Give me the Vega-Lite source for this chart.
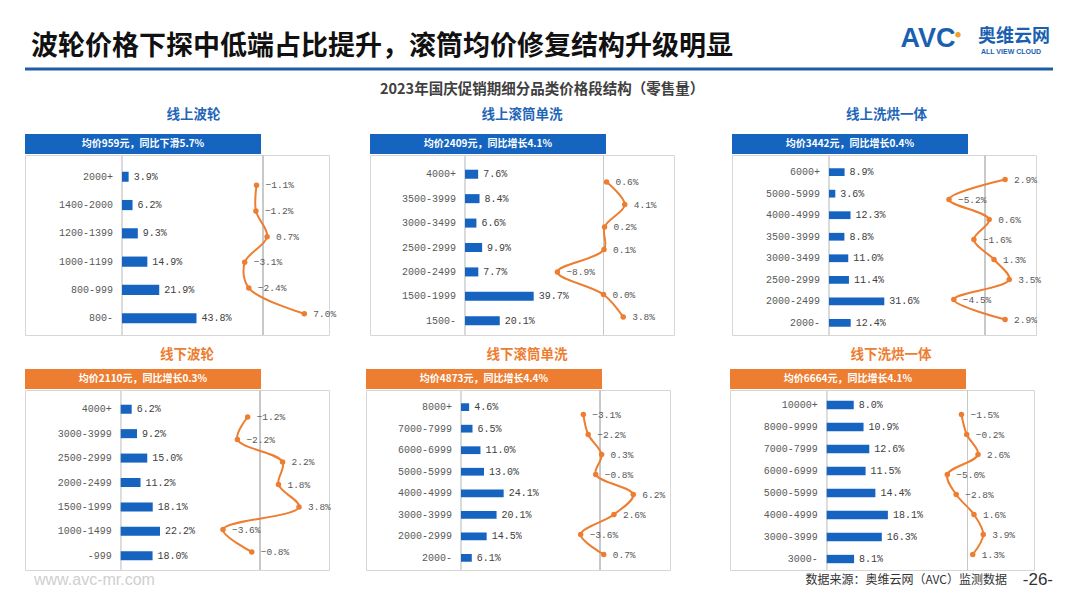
{
"$schema": "https://vega.github.io/schema/vega-lite/v6.json",
"background": "white",
"padding": {"left": 23, "top": 25, "right": 0, "bottom": 0},
"config": {"view": {"stroke": "#d6d6d6"}, "axis": {"disable": true}, "font": "Noto Sans CJK SC"},
"datasets": {"d": [
{"p":1,"seg":"2000+","share":0.039,"yoy":-0.011},
{"p":1,"seg":"1400-2000","share":0.062,"yoy":-0.012},
{"p":1,"seg":"1200-1399","share":0.093,"yoy":0.007},
{"p":1,"seg":"1000-1199","share":0.149,"yoy":-0.031},
{"p":1,"seg":"800-999","share":0.219,"yoy":-0.024},
{"p":1,"seg":"800-","share":0.438,"yoy":0.070},
{"p":2,"seg":"4000+","share":0.076,"yoy":0.006},
{"p":2,"seg":"3500-3999","share":0.084,"yoy":0.041},
{"p":2,"seg":"3000-3499","share":0.066,"yoy":0.002},
{"p":2,"seg":"2500-2999","share":0.099,"yoy":0.001},
{"p":2,"seg":"2000-2499","share":0.077,"yoy":-0.089},
{"p":2,"seg":"1500-1999","share":0.397,"yoy":0.0},
{"p":2,"seg":"1500-","share":0.201,"yoy":0.038},
{"p":3,"seg":"6000+","share":0.089,"yoy":0.029},
{"p":3,"seg":"5000-5999","share":0.036,"yoy":-0.052},
{"p":3,"seg":"4000-4999","share":0.123,"yoy":0.006},
{"p":3,"seg":"3500-3999","share":0.088,"yoy":-0.016},
{"p":3,"seg":"3000-3499","share":0.110,"yoy":0.013},
{"p":3,"seg":"2500-2999","share":0.114,"yoy":0.035},
{"p":3,"seg":"2000-2499","share":0.316,"yoy":-0.045},
{"p":3,"seg":"2000-","share":0.124,"yoy":0.029},
{"p":4,"seg":"4000+","share":0.062,"yoy":-0.012},
{"p":4,"seg":"3000-3999","share":0.092,"yoy":-0.022},
{"p":4,"seg":"2500-2999","share":0.150,"yoy":0.022},
{"p":4,"seg":"2000-2499","share":0.112,"yoy":0.018},
{"p":4,"seg":"1500-1999","share":0.181,"yoy":0.038},
{"p":4,"seg":"1000-1499","share":0.222,"yoy":-0.036},
{"p":4,"seg":"-999","share":0.180,"yoy":-0.008},
{"p":5,"seg":"8000+","share":0.046,"yoy":-0.031},
{"p":5,"seg":"7000-7999","share":0.065,"yoy":-0.022},
{"p":5,"seg":"6000-6999","share":0.110,"yoy":0.003},
{"p":5,"seg":"5000-5999","share":0.130,"yoy":-0.008},
{"p":5,"seg":"4000-4999","share":0.241,"yoy":0.062},
{"p":5,"seg":"3000-3999","share":0.201,"yoy":0.026},
{"p":5,"seg":"2000-2999","share":0.145,"yoy":-0.036},
{"p":5,"seg":"2000-","share":0.061,"yoy":0.007},
{"p":6,"seg":"10000+","share":0.080,"yoy":-0.015},
{"p":6,"seg":"8000-9999","share":0.109,"yoy":-0.002},
{"p":6,"seg":"7000-7999","share":0.126,"yoy":0.026},
{"p":6,"seg":"6000-6999","share":0.115,"yoy":-0.050},
{"p":6,"seg":"5000-5999","share":0.144,"yoy":-0.028},
{"p":6,"seg":"4000-4999","share":0.181,"yoy":0.016},
{"p":6,"seg":"3000-3999","share":0.163,"yoy":0.039},
{"p":6,"seg":"3000-","share":0.081,"yoy":0.013}
]},
"spacing": 11,
"vconcat": [
{
 "width": 1028, "height": 40, "view": {"stroke": null},
 "data": {"values": [{}]},
 "layer": [
  {"mark": {"type": "rule", "color": "#1f5ca8", "strokeWidth": 3}, "encoding": {"y": {"datum": 0, "type": "quantitative", "scale": {"domain": [0, 1], "nice": false}}}},
  {"mark": {"type": "text", "text": "波轮价格下探中低端占比提升，滚筒均价修复结构升级明显", "align": "left", "dx": 6, "fontSize": 27, "fontWeight": "bold", "color": "#111111"}, "encoding": {"x": {"datum": 0, "type": "quantitative", "scale": {"domain": [0, 1], "nice": false}}, "y": {"datum": 0.55, "type": "quantitative"}}},
  {"mark": {"type": "text", "text": "AVC", "align": "center", "dx": -125, "fontSize": 27, "fontWeight": "bold", "font": "Liberation Sans", "color": "#1b5fb0"}, "encoding": {"x": {"datum": 1, "type": "quantitative"}, "y": {"datum": 0.74, "type": "quantitative"}}},
  {"mark": {"type": "text", "text": "●", "align": "center", "dx": -95, "fontSize": 6, "color": "#f0a030"}, "encoding": {"x": {"datum": 1, "type": "quantitative"}, "y": {"datum": 0.86, "type": "quantitative"}}},
  {"mark": {"type": "text", "text": "奥维云网", "align": "right", "dx": -3, "fontSize": 18, "fontWeight": "bold", "color": "#1b5fb0"}, "encoding": {"x": {"datum": 1, "type": "quantitative"}, "y": {"datum": 0.8, "type": "quantitative"}}},
  {"mark": {"type": "text", "text": "ALL VIEW CLOUD", "align": "center", "dx": -42, "fontSize": 7, "fontWeight": "bold", "font": "Liberation Sans", "color": "#1b5fb0"}, "encoding": {"x": {"datum": 1, "type": "quantitative"}, "y": {"datum": 0.42, "type": "quantitative"}}}
 ]
},
{
 "title": {"text": "2023年国庆促销期细分品类价格段结构（零售量）", "fontSize": 14.5, "fontWeight": "bold", "color": "#404040", "anchor": "middle", "offset": 10, "dx": 9},
 "spacing": 56,
 "hconcat": [
  {"spacing": 32, "hconcat": [
   {
    "title": {"text": "线上波轮", "color": "#1f66b8", "fontSize": 13.5, "fontWeight": "bold", "anchor": "middle", "offset": 13, "dx": 13},
    "spacing": 0,
    "vconcat": [
     {"width": 236, "height": 20, "view": {"fill": "#1565c0", "stroke": null}, "data": {"values": [{}]}, "mark": {"type": "text", "text": "均价959元，同比下滑5.7%", "color": "white", "fontSize": 10, "fontWeight": "bold"}, "encoding": {}},
     {"width": 304, "height": 180, "data": {"name": "d"}, "transform": [{"filter": "datum.p == 1"}],
      "resolve": {"scale": {"x": "independent", "y": "independent"}},
      "layer": [
       {"layer": [
        {"mark": {"type": "rule", "color": "#dadada"}, "encoding": {"x": {"datum": 0, "type": "quantitative"}}},
        {"mark": {"type": "bar", "color": "#1663c0", "yOffset": 2.5}, "encoding": {"y": {"field": "seg", "type": "nominal", "sort": null, "scale": {"paddingInner": 0.64, "paddingOuter": 0.5}}, "x": {"field": "share", "type": "quantitative", "scale": {"domain": [-0.5706, 1.2176], "nice": false}}}},
        {"mark": {"type": "text", "align": "left", "dx": 5, "yOffset": 2.5, "font": "Liberation Mono", "fontSize": 10, "color": "#404040"}, "encoding": {"y": {"field": "seg", "type": "nominal", "sort": null}, "x": {"field": "share", "type": "quantitative"}, "text": {"field": "share", "type": "quantitative", "format": ".1%"}}},
        {"mark": {"type": "text", "align": "right", "dx": -9, "yOffset": 2.5, "font": "Liberation Mono", "fontSize": 10, "color": "#595959"}, "encoding": {"y": {"field": "seg", "type": "nominal", "sort": null}, "x": {"datum": 0, "type": "quantitative"}, "text": {"field": "seg", "type": "nominal"}}}
       ]},
       {"layer": [
        {"mark": {"type": "rule", "color": "#c8c8c8"}, "encoding": {"x": {"datum": 0, "type": "quantitative"}}},
        {"mark": {"type": "line", "color": "#ed7d31", "interpolate": "catmull-rom", "strokeWidth": 2, "yOffset": 4.5}, "encoding": {"y": {"field": "seg", "type": "nominal", "sort": null, "scale": {"type": "point", "padding": 1}}, "x": {"field": "yoy", "type": "quantitative", "scale": {"domain": [-0.4034, 0.1119], "nice": false}}, "order": {"value": null}}},
        {"mark": {"type": "point", "filled": true, "opacity": 1, "size": 30, "color": "#ed7d31", "yOffset": 4.5}, "encoding": {"y": {"field": "seg", "type": "nominal", "sort": null}, "x": {"field": "yoy", "type": "quantitative"}}},
        {"mark": {"type": "text", "align": "left", "dx": 9, "yOffset": 4.5, "font": "Liberation Mono", "fontSize": 9.5, "color": "#595959"}, "encoding": {"y": {"field": "seg", "type": "nominal", "sort": null}, "x": {"field": "yoy", "type": "quantitative"}, "text": {"field": "yoy", "type": "quantitative", "format": ".1%"}}}
       ]}
      ]
     }
    ]
   },
   {
    "title": {"text": "线上滚筒单洗", "color": "#1f66b8", "fontSize": 13.5, "fontWeight": "bold", "anchor": "middle", "offset": 13, "dx": 0},
    "spacing": 0,
    "vconcat": [
     {"width": 236, "height": 20, "view": {"fill": "#1565c0", "stroke": null}, "data": {"values": [{}]}, "mark": {"type": "text", "text": "均价2409元，同比增长4.1%", "color": "white", "fontSize": 10, "fontWeight": "bold"}, "encoding": {}},
     {"width": 304, "height": 180, "data": {"name": "d"}, "transform": [{"filter": "datum.p == 2"}],
      "resolve": {"scale": {"x": "independent", "y": "independent"}},
      "layer": [
       {"layer": [
        {"mark": {"type": "rule", "color": "#dadada"}, "encoding": {"x": {"datum": 0, "type": "quantitative"}}},
        {"mark": {"type": "bar", "color": "#1663c0", "yOffset": 2.5}, "encoding": {"y": {"field": "seg", "type": "nominal", "sort": null, "scale": {"paddingInner": 0.63, "paddingOuter": 0.5}}, "x": {"field": "share", "type": "quantitative", "scale": {"domain": [-0.549, 1.208], "nice": false}}}},
        {"mark": {"type": "text", "align": "left", "dx": 5, "yOffset": 2.5, "font": "Liberation Mono", "fontSize": 10, "color": "#404040"}, "encoding": {"y": {"field": "seg", "type": "nominal", "sort": null}, "x": {"field": "share", "type": "quantitative"}, "text": {"field": "share", "type": "quantitative", "format": ".1%"}}},
        {"mark": {"type": "text", "align": "right", "dx": -9, "yOffset": 2.5, "font": "Liberation Mono", "fontSize": 10, "color": "#595959"}, "encoding": {"y": {"field": "seg", "type": "nominal", "sort": null}, "x": {"datum": 0, "type": "quantitative"}, "text": {"field": "seg", "type": "nominal"}}}
       ]},
       {"layer": [
        {"mark": {"type": "rule", "color": "#c8c8c8"}, "encoding": {"x": {"datum": 0, "type": "quantitative"}}},
        {"mark": {"type": "line", "color": "#ed7d31", "interpolate": "catmull-rom", "strokeWidth": 2, "yOffset": 4.5}, "encoding": {"y": {"field": "seg", "type": "nominal", "sort": null, "scale": {"type": "point", "padding": 1}}, "x": {"field": "yoy", "type": "quantitative", "scale": {"domain": [-0.4508, 0.1361], "nice": false}}, "order": {"value": null}}},
        {"mark": {"type": "point", "filled": true, "opacity": 1, "size": 30, "color": "#ed7d31", "yOffset": 4.5}, "encoding": {"y": {"field": "seg", "type": "nominal", "sort": null}, "x": {"field": "yoy", "type": "quantitative"}}},
        {"mark": {"type": "text", "align": "left", "dx": 9, "yOffset": 4.5, "font": "Liberation Mono", "fontSize": 9.5, "color": "#595959"}, "encoding": {"y": {"field": "seg", "type": "nominal", "sort": null}, "x": {"field": "yoy", "type": "quantitative"}, "text": {"field": "yoy", "type": "quantitative", "format": ".1%"}}}
       ]}
      ]
     }
    ]
   }
  ]},
  {
   "title": {"text": "线上洗烘一体", "color": "#1f66b8", "fontSize": 13.5, "fontWeight": "bold", "anchor": "middle", "offset": 13, "dx": 0},
   "spacing": 0,
   "vconcat": [
    {"width": 236, "height": 20, "view": {"fill": "#1565c0", "stroke": null}, "data": {"values": [{}]}, "mark": {"type": "text", "text": "均价3442元，同比增长0.4%", "color": "white", "fontSize": 10, "fontWeight": "bold"}, "encoding": {}},
    {"width": 304, "height": 180, "data": {"name": "d"}, "transform": [{"filter": "datum.p == 3"}],
     "resolve": {"scale": {"x": "independent", "y": "independent"}},
     "layer": [
      {"layer": [
       {"mark": {"type": "rule", "color": "#dadada"}, "encoding": {"x": {"datum": 0, "type": "quantitative"}}},
       {"mark": {"type": "bar", "color": "#1663c0", "yOffset": 2.5}, "encoding": {"y": {"field": "seg", "type": "nominal", "sort": null, "scale": {"paddingInner": 0.64, "paddingOuter": 0.5}}, "x": {"field": "share", "type": "quantitative", "scale": {"domain": [-0.5543, 1.1829], "nice": false}}}},
       {"mark": {"type": "text", "align": "left", "dx": 5, "yOffset": 2.5, "font": "Liberation Mono", "fontSize": 10, "color": "#404040"}, "encoding": {"y": {"field": "seg", "type": "nominal", "sort": null}, "x": {"field": "share", "type": "quantitative"}, "text": {"field": "share", "type": "quantitative", "format": ".1%"}}},
       {"mark": {"type": "text", "align": "right", "dx": -9, "yOffset": 2.5, "font": "Liberation Mono", "fontSize": 10, "color": "#595959"}, "encoding": {"y": {"field": "seg", "type": "nominal", "sort": null}, "x": {"datum": 0, "type": "quantitative"}, "text": {"field": "seg", "type": "nominal"}}}
      ]},
      {"layer": [
       {"mark": {"type": "rule", "color": "#c8c8c8"}, "encoding": {"x": {"datum": 0, "type": "quantitative"}}},
       {"mark": {"type": "line", "color": "#ed7d31", "interpolate": "catmull-rom", "strokeWidth": 2, "yOffset": 4.5}, "encoding": {"y": {"field": "seg", "type": "nominal", "sort": null, "scale": {"type": "point", "padding": 1}}, "x": {"field": "yoy", "type": "quantitative", "scale": {"domain": [-0.3651, 0.0736], "nice": false}}, "order": {"value": null}}},
       {"mark": {"type": "point", "filled": true, "opacity": 1, "size": 30, "color": "#ed7d31", "yOffset": 4.5}, "encoding": {"y": {"field": "seg", "type": "nominal", "sort": null}, "x": {"field": "yoy", "type": "quantitative"}}},
       {"mark": {"type": "text", "align": "left", "dx": 9, "yOffset": 4.5, "font": "Liberation Mono", "fontSize": 9.5, "color": "#595959"}, "encoding": {"y": {"field": "seg", "type": "nominal", "sort": null}, "x": {"field": "yoy", "type": "quantitative"}, "text": {"field": "yoy", "type": "quantitative", "format": ".1%"}}}
      ]}
     ]
    }
   ]
  }
 ]
},
{
 "spacing": 0,
 "vconcat": [
  {
   "spacing": 58,
   "hconcat": [
    {"spacing": 33, "hconcat": [
     {
      "title": {"text": "线下波轮", "color": "#ed7d31", "fontSize": 13.5, "fontWeight": "bold", "anchor": "middle", "offset": 8, "dx": 9},
      "spacing": 0,
      "vconcat": [
       {"width": 236, "height": 20, "view": {"fill": "#ed7d31", "stroke": null}, "data": {"values": [{}]}, "mark": {"type": "text", "text": "均价2110元，同比增长0.3%", "color": "white", "fontSize": 10, "fontWeight": "bold"}, "encoding": {}},
       {"width": 304, "height": 180, "data": {"name": "d"}, "transform": [{"filter": "datum.p == 4"}],
        "resolve": {"scale": {"x": "independent", "y": "independent"}},
        "layer": [
         {"layer": [
          {"mark": {"type": "rule", "color": "#dadada"}, "encoding": {"x": {"datum": 0, "type": "quantitative"}}},
          {"mark": {"type": "bar", "color": "#1663c0", "yOffset": 2.5}, "encoding": {"y": {"field": "seg", "type": "nominal", "sort": null, "scale": {"paddingInner": 0.63, "paddingOuter": 0.5}}, "x": {"field": "share", "type": "quantitative", "scale": {"domain": [-0.5407, 1.1768], "nice": false}}}},
          {"mark": {"type": "text", "align": "left", "dx": 5, "yOffset": 2.5, "font": "Liberation Mono", "fontSize": 10, "color": "#404040"}, "encoding": {"y": {"field": "seg", "type": "nominal", "sort": null}, "x": {"field": "share", "type": "quantitative"}, "text": {"field": "share", "type": "quantitative", "format": ".1%"}}},
          {"mark": {"type": "text", "align": "right", "dx": -9, "yOffset": 2.5, "font": "Liberation Mono", "fontSize": 10, "color": "#595959"}, "encoding": {"y": {"field": "seg", "type": "nominal", "sort": null}, "x": {"datum": 0, "type": "quantitative"}, "text": {"field": "seg", "type": "nominal"}}}
         ]},
         {"layer": [
          {"mark": {"type": "rule", "color": "#c8c8c8"}, "encoding": {"x": {"datum": 0, "type": "quantitative"}}},
          {"mark": {"type": "line", "color": "#ed7d31", "interpolate": "catmull-rom", "strokeWidth": 2, "yOffset": 4.5}, "encoding": {"y": {"field": "seg", "type": "nominal", "sort": null, "scale": {"type": "point", "padding": 1}}, "x": {"field": "yoy", "type": "quantitative", "scale": {"domain": [-0.2288, 0.0672], "nice": false}}, "order": {"value": null}}},
          {"mark": {"type": "point", "filled": true, "opacity": 1, "size": 30, "color": "#ed7d31", "yOffset": 4.5}, "encoding": {"y": {"field": "seg", "type": "nominal", "sort": null}, "x": {"field": "yoy", "type": "quantitative"}}},
          {"mark": {"type": "text", "align": "left", "dx": 9, "yOffset": 4.5, "font": "Liberation Mono", "fontSize": 9.5, "color": "#595959"}, "encoding": {"y": {"field": "seg", "type": "nominal", "sort": null}, "x": {"field": "yoy", "type": "quantitative"}, "text": {"field": "yoy", "type": "quantitative", "format": ".1%"}}}
         ]}
        ]
       }
      ]
     },
     {
      "title": {"text": "线下滚筒单洗", "color": "#ed7d31", "fontSize": 13.5, "fontWeight": "bold", "anchor": "middle", "offset": 8, "dx": 9},
      "spacing": 0,
      "vconcat": [
       {"width": 236, "height": 20, "view": {"fill": "#ed7d31", "stroke": null}, "data": {"values": [{}]}, "mark": {"type": "text", "text": "均价4873元，同比增长4.4%", "color": "white", "fontSize": 10, "fontWeight": "bold"}, "encoding": {}},
       {"width": 304, "height": 180, "data": {"name": "d"}, "transform": [{"filter": "datum.p == 5"}],
        "resolve": {"scale": {"x": "independent", "y": "independent"}},
        "layer": [
         {"layer": [
          {"mark": {"type": "rule", "color": "#dadada"}, "encoding": {"x": {"datum": 0, "type": "quantitative"}}},
          {"mark": {"type": "bar", "color": "#1663c0", "yOffset": 2.5}, "encoding": {"y": {"field": "seg", "type": "nominal", "sort": null, "scale": {"paddingInner": 0.64, "paddingOuter": 0.5}}, "x": {"field": "share", "type": "quantitative", "scale": {"domain": [-0.5367, 1.1808], "nice": false}}}},
          {"mark": {"type": "text", "align": "left", "dx": 5, "yOffset": 2.5, "font": "Liberation Mono", "fontSize": 10, "color": "#404040"}, "encoding": {"y": {"field": "seg", "type": "nominal", "sort": null}, "x": {"field": "share", "type": "quantitative"}, "text": {"field": "share", "type": "quantitative", "format": ".1%"}}},
          {"mark": {"type": "text", "align": "right", "dx": -9, "yOffset": 2.5, "font": "Liberation Mono", "fontSize": 10, "color": "#595959"}, "encoding": {"y": {"field": "seg", "type": "nominal", "sort": null}, "x": {"datum": 0, "type": "quantitative"}, "text": {"field": "seg", "type": "nominal"}}}
         ]},
         {"layer": [
          {"mark": {"type": "rule", "color": "#c8c8c8"}, "encoding": {"x": {"datum": 0, "type": "quantitative"}}},
          {"mark": {"type": "line", "color": "#ed7d31", "interpolate": "catmull-rom", "strokeWidth": 2, "yOffset": 4.5}, "encoding": {"y": {"field": "seg", "type": "nominal", "sort": null, "scale": {"type": "point", "padding": 1}}, "x": {"field": "yoy", "type": "quantitative", "scale": {"domain": [-0.4358, 0.1304], "nice": false}}, "order": {"value": null}}},
          {"mark": {"type": "point", "filled": true, "opacity": 1, "size": 30, "color": "#ed7d31", "yOffset": 4.5}, "encoding": {"y": {"field": "seg", "type": "nominal", "sort": null}, "x": {"field": "yoy", "type": "quantitative"}}},
          {"mark": {"type": "text", "align": "left", "dx": 9, "yOffset": 4.5, "font": "Liberation Mono", "fontSize": 9.5, "color": "#595959"}, "encoding": {"y": {"field": "seg", "type": "nominal", "sort": null}, "x": {"field": "yoy", "type": "quantitative"}, "text": {"field": "yoy", "type": "quantitative", "format": ".1%"}}}
         ]}
        ]
       }
      ]
     }
    ]},
    {
     "title": {"text": "线下洗烘一体", "color": "#ed7d31", "fontSize": 13.5, "fontWeight": "bold", "anchor": "middle", "offset": 8, "dx": 9},
     "spacing": 0,
     "vconcat": [
      {"width": 236, "height": 20, "view": {"fill": "#ed7d31", "stroke": null}, "data": {"values": [{}]}, "mark": {"type": "text", "text": "均价6664元，同比增长4.1%", "color": "white", "fontSize": 10, "fontWeight": "bold"}, "encoding": {}},
      {"width": 304, "height": 180, "data": {"name": "d"}, "transform": [{"filter": "datum.p == 6"}],
       "resolve": {"scale": {"x": "independent", "y": "independent"}},
       "layer": [
        {"layer": [
         {"mark": {"type": "rule", "color": "#dadada"}, "encoding": {"x": {"datum": 0, "type": "quantitative"}}},
         {"mark": {"type": "bar", "color": "#1663c0", "yOffset": 2}, "encoding": {"y": {"field": "seg", "type": "nominal", "sort": null, "scale": {"paddingInner": 0.62, "paddingOuter": 0.4}}, "x": {"field": "share", "type": "quantitative", "scale": {"domain": [-0.2861, 0.6133], "nice": false}}}},
         {"mark": {"type": "text", "align": "left", "dx": 5, "yOffset": 2, "font": "Liberation Mono", "fontSize": 10, "color": "#404040"}, "encoding": {"y": {"field": "seg", "type": "nominal", "sort": null}, "x": {"field": "share", "type": "quantitative"}, "text": {"field": "share", "type": "quantitative", "format": ".1%"}}},
         {"mark": {"type": "text", "align": "right", "dx": -9, "yOffset": 2, "font": "Liberation Mono", "fontSize": 10, "color": "#595959"}, "encoding": {"y": {"field": "seg", "type": "nominal", "sort": null}, "x": {"datum": 0, "type": "quantitative"}, "text": {"field": "seg", "type": "nominal"}}}
        ]},
        {"layer": [
         {"mark": {"type": "rule", "color": "#c8c8c8"}, "encoding": {"x": {"datum": 0, "type": "quantitative"}}},
         {"mark": {"type": "line", "color": "#ed7d31", "interpolate": "catmull-rom", "strokeWidth": 2, "yOffset": 4.5}, "encoding": {"y": {"field": "seg", "type": "nominal", "sort": null, "scale": {"type": "point", "padding": 1}}, "x": {"field": "yoy", "type": "quantitative", "scale": {"domain": [-0.5879, 0.1646], "nice": false}}, "order": {"value": null}}},
         {"mark": {"type": "point", "filled": true, "opacity": 1, "size": 30, "color": "#ed7d31", "yOffset": 4.5}, "encoding": {"y": {"field": "seg", "type": "nominal", "sort": null}, "x": {"field": "yoy", "type": "quantitative"}}},
         {"mark": {"type": "text", "align": "left", "dx": 9, "yOffset": 4.5, "font": "Liberation Mono", "fontSize": 9.5, "color": "#595959"}, "encoding": {"y": {"field": "seg", "type": "nominal", "sort": null}, "x": {"field": "yoy", "type": "quantitative"}, "text": {"field": "yoy", "type": "quantitative", "format": ".1%"}}}
        ]}
       ]
      }
     ]
    }
   ]
  },
  {
   "width": 1028, "height": 6, "view": {"stroke": null},
   "data": {"values": [{}]},
   "layer": [
    {"mark": {"type": "text", "text": "www.avc-mr.com", "align": "left", "dx": 9, "font": "Liberation Sans", "fontSize": 16, "color": "#cfcfcf"}, "encoding": {"x": {"datum": 0, "type": "quantitative", "scale": {"domain": [0, 1], "nice": false}}}},
    {"mark": {"type": "text", "text": "数据来源：奥维云网（AVC）监测数据", "align": "right", "dx": -46, "fontSize": 12, "color": "#333333"}, "encoding": {"x": {"datum": 1, "type": "quantitative"}}},
    {"mark": {"type": "text", "text": "-26-", "align": "right", "dx": 0, "font": "Liberation Sans", "fontSize": 17, "color": "#333333"}, "encoding": {"x": {"datum": 1, "type": "quantitative"}}}
   ]
  }
 ]
}
]
}
